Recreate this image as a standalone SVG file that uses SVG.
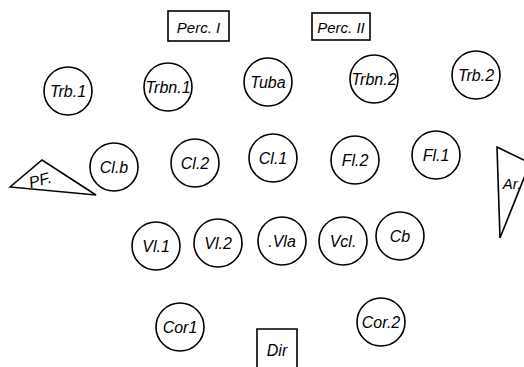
<svg xmlns="http://www.w3.org/2000/svg" width="524" height="367" viewBox="0 0 524 367">
<style>
.s{fill:none;stroke:#000;stroke-width:1.6}
.t{font-family:"Liberation Sans","DejaVu Sans",sans-serif;font-style:italic;font-size:16px;fill:#000;text-anchor:middle;dominant-baseline:central}
.sm{font-size:15px}
</style>
<rect width="524" height="367" fill="#fff"/>
<g id="perc1"><rect class="s" x="168" y="11" width="61" height="30"/><text class="t sm" x="198.5" y="27">Perc. I</text></g>
<g id="perc2"><rect class="s" x="312" y="13" width="58" height="27"/><text class="t sm" x="341" y="27">Perc. II</text></g>
<g id="trb1"><circle class="s" cx="68" cy="91" r="24"/><text class="t" x="68" y="91">Trb.1</text></g>
<g id="trbn1"><circle class="s" cx="168" cy="87" r="24"/><text class="t" x="168" y="87">Trbn.1</text></g>
<g id="tuba"><circle class="s" cx="268" cy="82" r="24"/><text class="t" x="268" y="82">Tuba</text></g>
<g id="trbn2"><circle class="s" cx="374" cy="79" r="24"/><text class="t" x="374" y="79">Trbn.2</text></g>
<g id="trb2"><circle class="s" cx="476" cy="75" r="24"/><text class="t" x="476" y="75">Trb.2</text></g>
<g id="clb"><circle class="s" cx="114" cy="167" r="24"/><text class="t" x="114" y="167">Cl.b</text></g>
<g id="cl2"><circle class="s" cx="195" cy="163" r="24"/><text class="t" x="195" y="163">Cl.2</text></g>
<g id="cl1"><circle class="s" cx="273" cy="158" r="24"/><text class="t" x="273" y="158">Cl.1</text></g>
<g id="fl2"><circle class="s" cx="355" cy="160" r="24"/><text class="t" x="355" y="160">Fl.2</text></g>
<g id="fl1"><circle class="s" cx="436" cy="155" r="24"/><text class="t" x="436" y="155">Fl.1</text></g>
<g id="pf"><polygon class="s" points="10,187 42,160 96,195"/><text class="t" x="40" y="180" transform="rotate(-15 40 180)">PF.</text></g>
<g id="ar"><polygon class="s" points="497,147 530,163 500,238"/><text class="t sm" x="512" y="183">Ar.</text></g>
<g id="vl1"><circle class="s" cx="156" cy="246" r="24"/><text class="t" x="156" y="246">Vl.1</text></g>
<g id="vl2"><circle class="s" cx="218" cy="243" r="24"/><text class="t" x="218" y="243">Vl.2</text></g>
<g id="vla"><circle class="s" cx="282" cy="241" r="24"/><text class="t" x="282" y="241">.Vla</text></g>
<g id="vcl"><circle class="s" cx="343" cy="241" r="24"/><text class="t" x="343" y="241">Vcl.</text></g>
<g id="cb"><circle class="s" cx="400" cy="236" r="24"/><text class="t" x="400" y="236">Cb</text></g>
<g id="cor1"><circle class="s" cx="180" cy="327" r="24"/><text class="t" x="180" y="327">Cor1</text></g>
<g id="cor2"><circle class="s" cx="381" cy="322" r="24"/><text class="t" x="381" y="322">Cor.2</text></g>
<g id="dir"><path class="s" d="M257,367 V329 H297 V367"/><text class="t" x="277" y="350">Dir</text></g>
<g id="connectors"></g>
</svg>
